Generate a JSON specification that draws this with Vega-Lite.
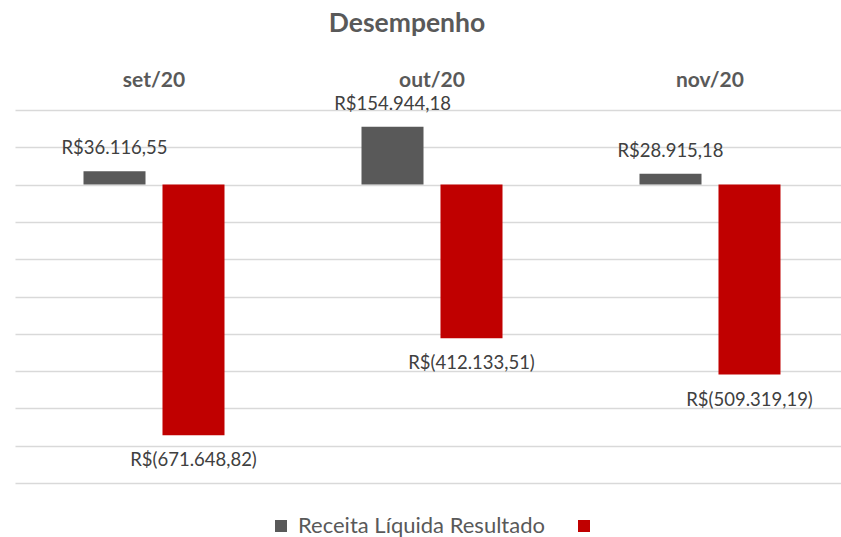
{
  "$schema": "https://vega.github.io/schema/vega-lite/v6.json",
  "width": 826,
  "height": 373,
  "autosize": {"type": "none"},
  "padding": {"left": 15, "top": 110, "right": 0, "bottom": 54},
  "background": "white",
  "config": {
    "view": {"stroke": null},
    "font": "Lato"
  },
  "title": {
    "text": "Desempenho",
    "fontSize": 26.5,
    "fontWeight": "bold",
    "color": "#595959",
    "font": "Lato",
    "anchor": "middle",
    "dx": -21,
    "offset": 32
  },
  "data": {
    "values": [
      {"month": "set/20", "series": "Receita Líquida", "value": 36116.55, "label": "R$36.116,55"},
      {"month": "set/20", "series": "Resultado", "value": -671648.82, "label": "R$(671.648,82)"},
      {"month": "out/20", "series": "Receita Líquida", "value": 154944.18, "label": "R$154.944,18"},
      {"month": "out/20", "series": "Resultado", "value": -412133.51, "label": "R$(412.133,51)"},
      {"month": "nov/20", "series": "Receita Líquida", "value": 28915.18, "label": "R$28.915,18"},
      {"month": "nov/20", "series": "Resultado", "value": -509319.19, "label": "R$(509.319,19)"}
    ]
  },
  "encoding": {
    "x": {
      "field": "month",
      "type": "nominal",
      "sort": ["set/20", "out/20", "nov/20"],
      "scale": {"range": [0, 834], "paddingInner": 0.4928, "paddingOuter": 0.2464},
      "axis": {
        "orient": "top",
        "title": null,
        "domain": false,
        "ticks": false,
        "labelAngle": 0,
        "labelFontSize": 21,
        "labelFontWeight": "bold",
        "labelColor": "#595959",
        "labelPadding": 20
      }
    },
    "xOffset": {
      "field": "series",
      "type": "nominal",
      "sort": ["Receita Líquida", "Resultado"],
      "scale": {"paddingInner": 0.215, "paddingOuter": 0}
    },
    "y": {
      "field": "value",
      "type": "quantitative",
      "scale": {"domain": [-800000, 200000], "nice": false, "zero": true},
      "axis": {
        "title": null,
        "domain": false,
        "ticks": false,
        "labels": false,
        "grid": true,
        "gridColor": "#d9d9d9",
        "gridWidth": 1.3,
        "values": [-800000, -700000, -600000, -500000, -400000, -300000, -200000, -100000, 0, 100000, 200000]
      }
    }
  },
  "layer": [
    {
      "mark": {"type": "bar"},
      "encoding": {
        "color": {
          "field": "series",
          "type": "nominal",
          "sort": ["Receita Líquida", "Resultado"],
          "scale": {"domain": ["Receita Líquida", "Resultado"], "range": ["#595959", "#C00000"]},
          "legend": {
            "title": null,
            "orient": "none",
            "legendX": 255,
            "legendY": 405,
            "direction": "horizontal",
            "symbolType": "square",
            "symbolSize": 144,
            "symbolStrokeWidth": 0,
            "labelFontSize": 22,
            "labelColor": "#595959",
            "labelOffset": 6,
            "columnPadding": 28,
            "labelLimit": 400,
            "labelExpr": "datum.label == 'Receita Líquida' ? 'Receita Líquida Resultado' : ''"
          }
        }
      }
    },
    {
      "transform": [{"filter": "datum.series == 'Receita Líquida'"}],
      "mark": {"type": "text", "baseline": "bottom", "dy": -13, "fontSize": 18.5, "color": "#404040"},
      "encoding": {"text": {"field": "label"}}
    },
    {
      "transform": [{"filter": "datum.series == 'Resultado'"}],
      "mark": {"type": "text", "baseline": "top", "dy": 16, "fontSize": 18.5, "color": "#404040"},
      "encoding": {"text": {"field": "label"}}
    }
  ]
}
